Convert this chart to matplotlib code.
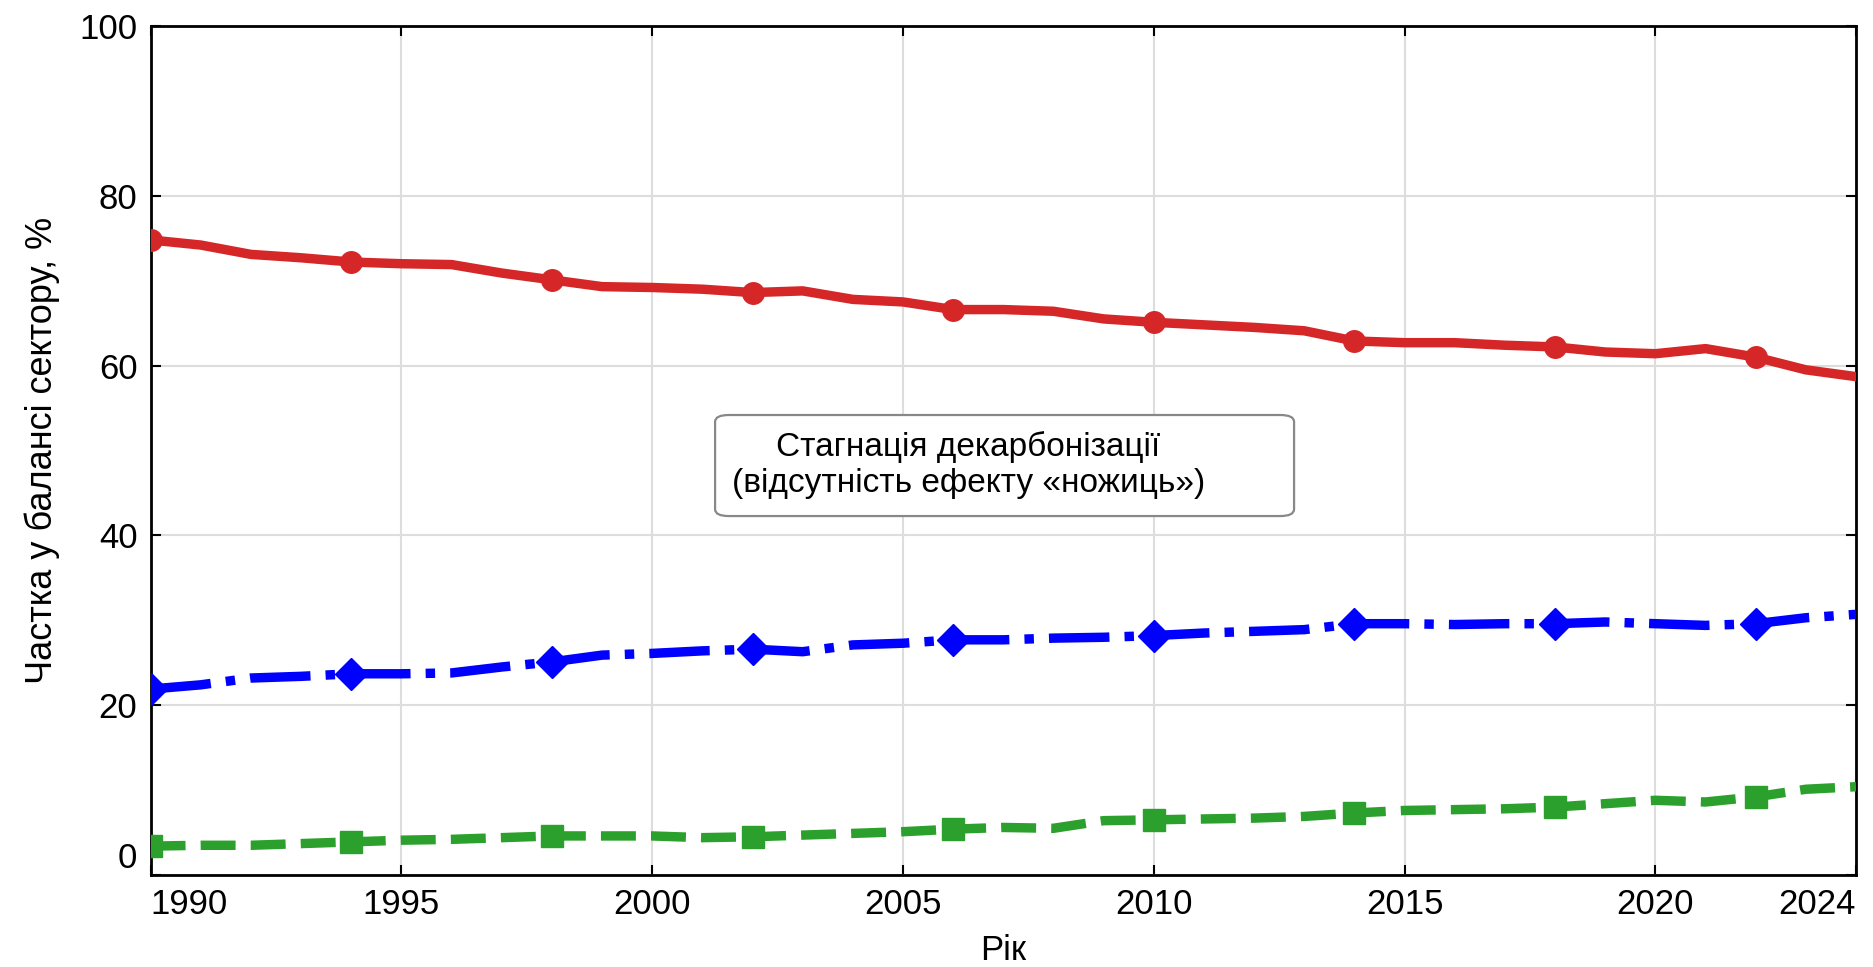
import matplotlib
matplotlib.use("Agg")
import matplotlib.pyplot as plt
from matplotlib.patches import FancyBboxPatch

plt.rcParams["font.family"] = ["Liberation Sans", "DejaVu Sans"]

# ---------- data ----------
years = list(range(1990, 2025))

fossil = [74.8, 74.2, 73.1, 72.7, 72.2, 72.0, 71.9, 70.9, 70.1, 69.3,
          69.2, 69.0, 68.6, 68.8, 67.8, 67.5, 66.6, 66.6, 66.4, 65.5,
          65.1, 64.8, 64.5, 64.1, 62.9, 62.7, 62.7, 62.4, 62.2, 61.6,
          61.4, 62.0, 61.0, 59.5, 58.7]

middle = [21.9, 22.4, 23.2, 23.4, 23.7, 23.7, 23.8, 24.5, 25.1, 25.9,
          26.1, 26.4, 26.6, 26.3, 27.1, 27.3, 27.7, 27.7, 27.9, 28.0,
          28.2, 28.5, 28.7, 28.9, 29.6, 29.6, 29.5, 29.6, 29.6, 29.8,
          29.6, 29.4, 29.6, 30.3, 30.7]

clean = [3.4, 3.5, 3.5, 3.7, 3.9, 4.1, 4.2, 4.4, 4.6, 4.6,
         4.6, 4.4, 4.5, 4.7, 4.9, 5.1, 5.4, 5.6, 5.5, 6.4,
         6.5, 6.6, 6.7, 6.9, 7.3, 7.6, 7.7, 7.8, 8.0, 8.4,
         8.8, 8.6, 9.2, 10.1, 10.4]

x_ticks = [1990, 1995, 2000, 2005, 2010, 2015, 2020, 2024]
y_ticks = [0, 20, 40, 60, 80, 100]

note = "Стагнація декарбонізації\n(відсутність ефекту «ножиць»)"

# ---------- plot ----------
fig = plt.figure(figsize=(18.74, 9.67), dpi=100)
ax = fig.add_axes([150.6 / 1874, 1 - 875 / 967, 1705.4 / 1874, 849 / 967])

lw = 6.8
ax.plot(years, fossil, color="#d62728", lw=lw, ls="-",
        marker="o", markersize=15.5, markevery=4, zorder=3)
ax.plot(years, middle, color="#0000ff", lw=lw, ls="-.",
        marker="D", markersize=16.5, markevery=4, zorder=3)
ax.plot(years, clean, color="#2ca02c", lw=lw, ls="--",
        marker="s", markersize=16, markevery=4, zorder=3)

ax.set_xlim(1990, 2024)
ax.set_ylim(0, 100)
ax.set_xticks(x_ticks)
ax.set_yticks(y_ticks)
ax.grid(True, color="#dddddd", lw=1.5)
ax.set_axisbelow(True)

ax.tick_params(direction="in", top=True, right=True, length=7, width=1.5,
               pad=9.5, labelsize=25)
for sp in ax.spines.values():
    sp.set_linewidth(2)

xl = ax.get_xticklabels()
xl[0].set_ha("left")
xl[-1].set_ha("right")
ax.get_yticklabels()[0].set_va("bottom")

ax.set_xlabel("Рік", fontsize=25, labelpad=9)
ax.set_ylabel("Частка у балансі сектору, %", fontsize=26, labelpad=14)

# annotation box
box = FancyBboxPatch((0.331, 0.4228), 0.3395, 0.119,
                     boxstyle="round,pad=0,rounding_size=0.008",
                     transform=ax.transAxes, facecolor="white",
                     edgecolor="#888888", lw=1.6, zorder=4)
ax.add_patch(box)
ax.text(0.3409, 0.483, note, transform=ax.transAxes, ha="left", va="center",
        multialignment="center", fontsize=24, zorder=5)

fig.savefig("out.png", dpi=100)
